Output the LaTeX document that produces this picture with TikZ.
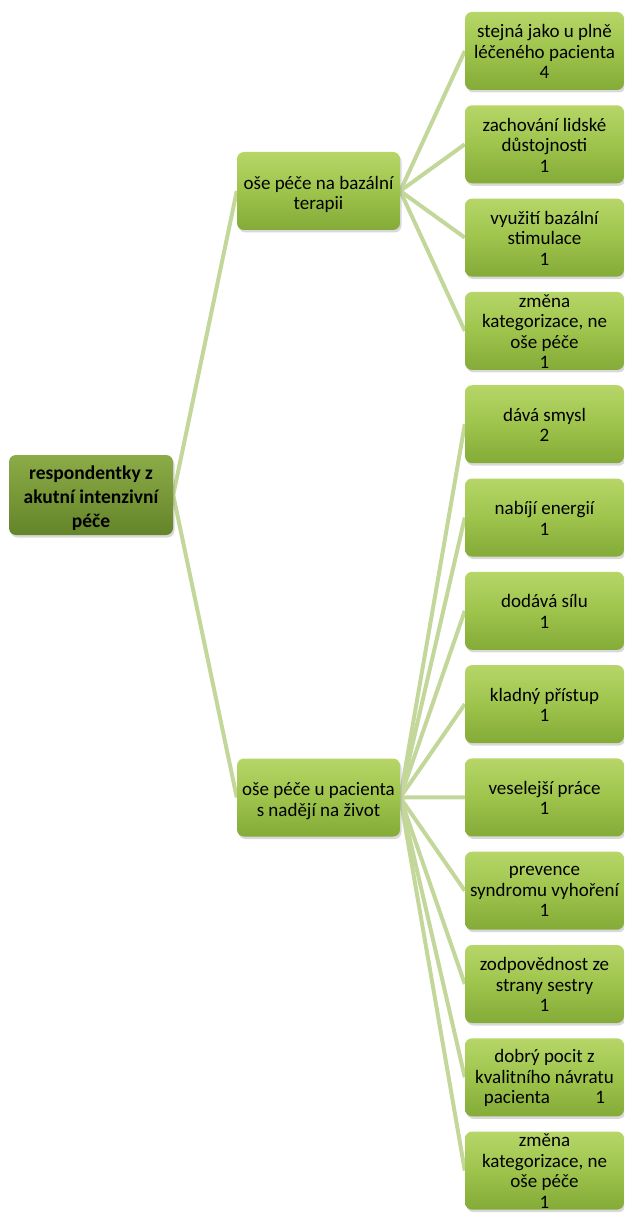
\documentclass[tikz,border=0pt]{standalone}
\usepackage{fontspec}
\setmainfont{Carlito}
\usetikzlibrary{shadows,backgrounds}

\definecolor{linkgreen}{RGB}{196,215,155}
\definecolor{leaftop}{RGB}{182,214,104}
\definecolor{leafmid}{RGB}{158,196,76}
\definecolor{leafbot}{RGB}{132,170,56}
\definecolor{roottop}{RGB}{140,172,72}
\definecolor{rootmid}{RGB}{120,152,56}
\definecolor{rootbot}{RGB}{100,132,42}

% box text: fixed-size area, lines centred and lowered a little, may overflow the box
\newcommand{\boxlines}[3]{\raisebox{-#3}[0pt][0pt]{\parbox[c][0pt][c]{#1}{\centering #2}}}

\tikzset{
  box/.style={rounded corners=7pt, inner sep=0pt, text=black,
    top color=leaftop, bottom color=leafbot, middle color=leafmid,
    drop shadow={shadow xshift=1.5pt, shadow yshift=-2.5pt, opacity=0.3},
    font=\fontsize{19}{20.5}\selectfont},
  leaf/.style={box, minimum width=159pt, minimum height=78pt},
  branch/.style={box, minimum width=163pt, minimum height=78pt},
  rootbox/.style={box, minimum width=164pt, minimum height=80pt,
    top color=roottop, bottom color=rootbot, middle color=rootmid,
    font=\fontsize{19.5}{24}\selectfont\bfseries},
  link/.style={draw=linkgreen, line width=4pt},
}

\begin{document}
\begin{tikzpicture}[x=1pt, y=-1pt]
\useasboundingbox (0,0) rectangle (624,1214);
\clip (0,0) rectangle (624,1214);

% root and its two branches
\node[rootbox] (root) at (91,495) {\boxlines{160pt}{respondentky z\\akutní intenzivní\\péče}{8pt}};
\node[branch] (b1) at (318.5,191) {\boxlines{160pt}{oše péče na bazální\\terapii}{8pt}};
\node[branch] (b2) at (318.5,797.5) {\boxlines{160pt}{oše péče u pacienta\\s nadějí na život}{8pt}};

% leaves
\foreach \i/\t in {
  0/{stejná jako u plně\\léčeného pacienta\\4},
  1/{zachování lidské\\důstojnosti\\1},
  2/{využití bazální\\stimulace\\1},
  3/{změna\\kategorizace, ne\\oše péče\\1},
  4/{dává smysl\\2},
  5/{nabíjí energií\\1},
  6/{dodává sílu\\1},
  7/{kladný přístup\\1},
  8/{veselejší práce\\1},
  9/{prevence\\syndromu~vyhoření\\1},
  10/{zodpovědnost ze\\strany sestry\\1},
  11/{dobrý pocit z\\kvalitního návratu\\pacienta\hspace{2.4em}1},
  12/{změna\\kategorizace, ne\\oše péče\\1}}
  \node[leaf] (l\i) at (544.5,51+93.3*\i) {\boxlines{157pt}{\t}{5pt}};

% connectors, drawn beneath the boxes
\begin{scope}[on background layer]
  \draw[link] (root.east) -- (b1.west);
  \draw[link] (root.east) -- (b2.west);
  \foreach \i in {0,...,3} \draw[link] (b1.east) -- (l\i.west);
  \foreach \i in {4,...,12} \draw[link] (b2.east) -- (l\i.west);
\end{scope}
\end{tikzpicture}
\end{document}
